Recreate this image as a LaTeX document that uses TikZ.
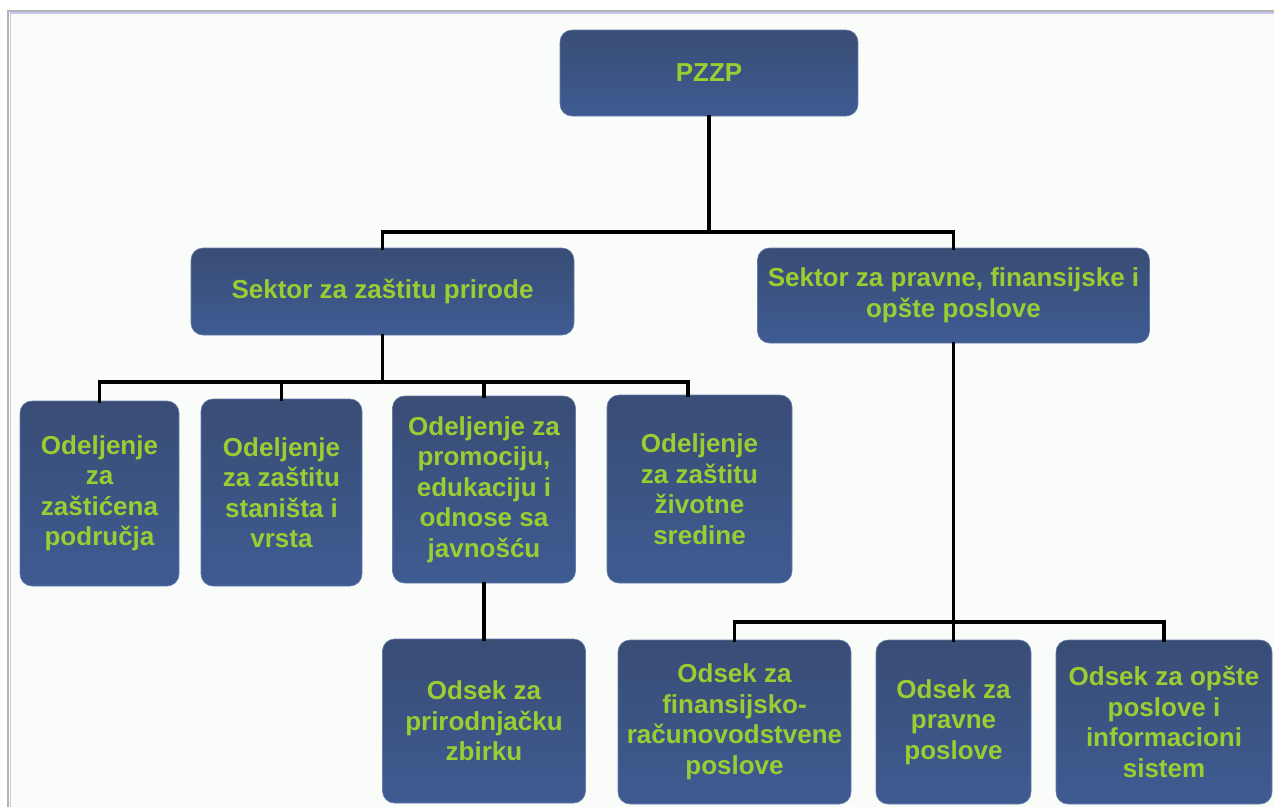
\documentclass[tikz,border=0pt]{standalone}
\usepackage{fontspec}
\setmainfont{Liberation Sans}
\definecolor{boxtop}{RGB}{57,77,117}
\definecolor{boxbot}{RGB}{62,91,146}
\definecolor{txtgreen}{RGB}{154,205,50}
\definecolor{pagebg}{RGB}{250,252,250}
\definecolor{framegray}{RGB}{180,180,182}
\definecolor{frameblue}{RGB}{196,200,236}
\tikzset{
  orgbox/.style={rounded corners=12pt, top color=boxtop, bottom color=boxbot,
    draw=boxbot!80!white, line width=0.6pt, inner sep=0pt, align=center,
    text=txtgreen, font=\fontsize{26}{30.5}\selectfont\bfseries},
  conn/.style={line width=3.6pt, black, line cap=rect}
}
\begin{document}
\begin{tikzpicture}[x=1pt,y=-1pt]
\useasboundingbox (0,0) rectangle (1274,807);
\fill[white] (0,0) rectangle (1274,807);
\fill[pagebg] (9,12) rectangle (1274,807);
\draw[framegray, line width=2pt] (8,807) -- (8,11) -- (1274,11);
\draw[frameblue, line width=1.5pt] (10.5,807) -- (10.5,13.2) -- (1274,13.2);

\node[orgbox, minimum width=298pt, minimum height=86pt] (pzzp) at (709,73) {PZZP};
\node[orgbox, minimum width=383pt, minimum height=87pt] (s1) at (382.5,291.5) {Sektor za zaštitu prirode};
\node[orgbox, minimum width=392pt, minimum height=95pt] (s2) at (953.5,295.5) {Sektor za pravne, finansijske i\\opšte poslove};
\node[orgbox, minimum width=159pt, minimum height=185pt] (d1) at (99.5,493.5) {Odeljenje\\za\\zaštićena\\područja};
\node[orgbox, minimum width=161pt, minimum height=187pt] (d2) at (281.5,492.5) {Odeljenje\\za zaštitu\\staništa i\\vrsta};
\node[orgbox, minimum width=183pt, minimum height=187pt] (d3) at (484,489.5) {Odeljenje za\\promociju,\\edukaciju i\\odnose sa\\javnošću};
\node[orgbox, minimum width=185pt, minimum height=188pt] (d4) at (699.5,489) {Odeljenje\\za zaštitu\\životne\\sredine};
\node[orgbox, minimum width=203pt, minimum height=164pt] (o1) at (484,721) {Odsek za\\prirodnjačku\\zbirku};
\node[orgbox, minimum width=233pt, minimum height=164pt] (r1) at (734.5,722) {Odsek za\\finansijsko-\\računovodstvene\\poslove};
\node[orgbox, minimum width=155pt, minimum height=164pt] (r2) at (953.5,722) {Odsek za\\pravne\\poslove};
\node[orgbox, minimum width=216pt, minimum height=164pt] (r3) at (1164,722) {Odsek za opšte\\poslove i\\informacioni\\sistem};

\coordinate (busA) at (pzzp.south |- 0,232);
\coordinate (busB) at (s1.south |- 0,382);
\coordinate (busC) at (s2.south |- 0,622);

% top level
\draw[conn] (pzzp.south) -- (busA);
\draw[conn] (busA) -| (s1.north);
\draw[conn] (busA) -| (s2.north);
% left sector
\draw[conn] (s1.south) -- (busB);
\draw[conn] (busB) -| (d1.north);
\draw[conn] (busB) -| (d2.north);
\draw[conn] (busB) -| (d3.north);
\draw[conn] (busB) -| (688,0 |- d4.north);
% department to section
\draw[conn] (d3.south) -- (o1.north);
% right sector
\draw[conn] (s2.south) -- (busC);
\draw[conn] (busC) -| (r1.north);
\draw[conn] (busC) -- (r2.north);
\draw[conn] (busC) -| (r3.north);
\end{tikzpicture}
\end{document}
